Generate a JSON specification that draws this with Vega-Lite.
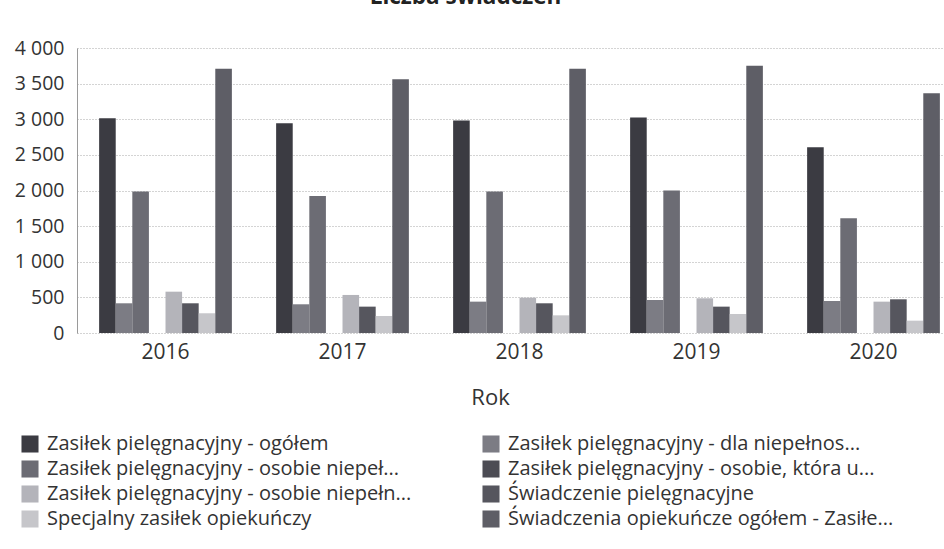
{
  "$schema": "https://vega.github.io/schema/vega-lite/v6.json",
  "autosize": "none",
  "padding": {"left": 77, "top": 48, "right": 0, "bottom": 216},
  "width": 885,
  "height": 285,
  "background": "white",
  "title": {
    "text": "Liczba świadczeń",
    "anchor": "middle",
    "frame": "group",
    "offset": 30,
    "dx": -54,
    "fontSize": 22.5,
    "fontWeight": "bold",
    "font": "Open Sans",
    "color": "#222222"
  },
  "data": {
    "values": [
      {"rok": "2016", "seria": "Zasiłek pielęgnacyjny - ogółem", "wartosc": 3015},
      {"rok": "2016", "seria": "Zasiłek pielęgnacyjny - dla niepełnos...", "wartosc": 417},
      {"rok": "2016", "seria": "Zasiłek pielęgnacyjny - osobie niepeł...", "wartosc": 1985},
      {"rok": "2016", "seria": "Zasiłek pielęgnacyjny - osobie, która u...", "wartosc": 0},
      {"rok": "2016", "seria": "Zasiłek pielęgnacyjny -  osobie niepełn...", "wartosc": 580},
      {"rok": "2016", "seria": "Świadczenie pielęgnacyjne", "wartosc": 417},
      {"rok": "2016", "seria": "Specjalny zasiłek opiekuńczy", "wartosc": 277},
      {"rok": "2016", "seria": "Świadczenia opiekuńcze ogółem - Zasiłe...", "wartosc": 3708},
      {"rok": "2017", "seria": "Zasiłek pielęgnacyjny - ogółem", "wartosc": 2945},
      {"rok": "2017", "seria": "Zasiłek pielęgnacyjny - dla niepełnos...", "wartosc": 403},
      {"rok": "2017", "seria": "Zasiłek pielęgnacyjny - osobie niepeł...", "wartosc": 1924},
      {"rok": "2017", "seria": "Zasiłek pielęgnacyjny - osobie, która u...", "wartosc": 0},
      {"rok": "2017", "seria": "Zasiłek pielęgnacyjny -  osobie niepełn...", "wartosc": 534},
      {"rok": "2017", "seria": "Świadczenie pielęgnacyjne", "wartosc": 370},
      {"rok": "2017", "seria": "Specjalny zasiłek opiekuńczy", "wartosc": 239},
      {"rok": "2017", "seria": "Świadczenia opiekuńcze ogółem - Zasiłe...", "wartosc": 3563},
      {"rok": "2018", "seria": "Zasiłek pielęgnacyjny - ogółem", "wartosc": 2982},
      {"rok": "2018", "seria": "Zasiłek pielęgnacyjny - dla niepełnos...", "wartosc": 440},
      {"rok": "2018", "seria": "Zasiłek pielęgnacyjny - osobie niepeł...", "wartosc": 1985},
      {"rok": "2018", "seria": "Zasiłek pielęgnacyjny - osobie, która u...", "wartosc": 0},
      {"rok": "2018", "seria": "Zasiłek pielęgnacyjny -  osobie niepełn...", "wartosc": 496},
      {"rok": "2018", "seria": "Świadczenie pielęgnacyjne", "wartosc": 417},
      {"rok": "2018", "seria": "Specjalny zasiłek opiekuńczy", "wartosc": 248},
      {"rok": "2018", "seria": "Świadczenia opiekuńcze ogółem - Zasiłe...", "wartosc": 3708},
      {"rok": "2019", "seria": "Zasiłek pielęgnacyjny - ogółem", "wartosc": 3024},
      {"rok": "2019", "seria": "Zasiłek pielęgnacyjny - dla niepełnos...", "wartosc": 463},
      {"rok": "2019", "seria": "Zasiłek pielęgnacyjny - osobie niepeł...", "wartosc": 1999},
      {"rok": "2019", "seria": "Zasiłek pielęgnacyjny - osobie, która u...", "wartosc": 0},
      {"rok": "2019", "seria": "Zasiłek pielęgnacyjny -  osobie niepełn...", "wartosc": 487},
      {"rok": "2019", "seria": "Świadczenie pielęgnacyjne", "wartosc": 370},
      {"rok": "2019", "seria": "Specjalny zasiłek opiekuńczy", "wartosc": 267},
      {"rok": "2019", "seria": "Świadczenia opiekuńcze ogółem - Zasiłe...", "wartosc": 3750},
      {"rok": "2020", "seria": "Zasiłek pielęgnacyjny - ogółem", "wartosc": 2608},
      {"rok": "2020", "seria": "Zasiłek pielęgnacyjny - dla niepełnos...", "wartosc": 449},
      {"rok": "2020", "seria": "Zasiłek pielęgnacyjny - osobie niepeł...", "wartosc": 1611},
      {"rok": "2020", "seria": "Zasiłek pielęgnacyjny - osobie, która u...", "wartosc": 0},
      {"rok": "2020", "seria": "Zasiłek pielęgnacyjny -  osobie niepełn...", "wartosc": 440},
      {"rok": "2020", "seria": "Świadczenie pielęgnacyjne", "wartosc": 473},
      {"rok": "2020", "seria": "Specjalny zasiłek opiekuńczy", "wartosc": 173},
      {"rok": "2020", "seria": "Świadczenia opiekuńcze ogółem - Zasiłe...", "wartosc": 3366}
    ]
  },
  "mark": {"type": "bar"},
  "encoding": {
    "x": {
      "field": "rok",
      "type": "nominal",
      "scale": {"paddingInner": 0.25, "paddingOuter": 0.125},
      "axis": {
        "title": "Rok",
        "labelAngle": 0,
        "labelFont": "Open Sans",
        "labelFontSize": 21,
        "labelColor": "#333333",
        "labelPadding": 8,
        "ticks": false,
        "domain": false,
        "titleFont": "Open Sans",
        "titleFontSize": 22,
        "titleFontWeight": "normal",
        "titleColor": "#333333",
        "titlePadding": 25,
        "titleX": 413,
        "titleAlign": "center"
      }
    },
    "xOffset": {
      "field": "seria",
      "type": "nominal",
      "scale": {
        "paddingInner": 0,
        "paddingOuter": 0,
        "domain": [
          "Zasiłek pielęgnacyjny - ogółem",
          "Zasiłek pielęgnacyjny - dla niepełnos...",
          "Zasiłek pielęgnacyjny - osobie niepeł...",
          "Zasiłek pielęgnacyjny - osobie, która u...",
          "Zasiłek pielęgnacyjny -  osobie niepełn...",
          "Świadczenie pielęgnacyjne",
          "Specjalny zasiłek opiekuńczy",
          "Świadczenia opiekuńcze ogółem - Zasiłe..."
        ]
      }
    },
    "y": {
      "field": "wartosc",
      "type": "quantitative",
      "scale": {"domain": [0, 4000], "nice": false},
      "axis": {
        "title": null,
        "values": [0, 500, 1000, 1500, 2000, 2500, 3000, 3500, 4000],
        "labelExpr": "replace(format(datum.value, ','), ',', ' ')",
        "labelFont": "Open Sans",
        "labelFontSize": 19.5,
        "labelColor": "#333333",
        "labelPadding": 13,
        "ticks": false,
        "domain": true,
        "domainColor": "#9a9a9a",
        "domainWidth": 1,
        "grid": true,
        "gridColor": "#a8a8a8",
        "gridDash": [1, 2],
        "gridWidth": 1
      }
    },
    "color": {
      "field": "seria",
      "type": "nominal",
      "scale": {
        "domain": [
          "Zasiłek pielęgnacyjny - ogółem",
          "Zasiłek pielęgnacyjny - dla niepełnos...",
          "Zasiłek pielęgnacyjny - osobie niepeł...",
          "Zasiłek pielęgnacyjny - osobie, która u...",
          "Zasiłek pielęgnacyjny -  osobie niepełn...",
          "Świadczenie pielęgnacyjne",
          "Specjalny zasiłek opiekuńczy",
          "Świadczenia opiekuńcze ogółem - Zasiłe..."
        ],
        "range": ["#3b3b42", "#7c7c84", "#6c6c74", "#4c4c54", "#b4b4ba", "#56565e", "#c6c6ca", "#5e5e66"]
      },
      "legend": {
        "title": null,
        "orient": "none",
        "direction": "horizontal",
        "legendX": -57,
        "legendY": 386,
        "columns": 2,
        "columnPadding": 64,
        "rowPadding": 5,
        "symbolType": "square",
        "symbolSize": 290,
        "symbolStrokeWidth": 0,
        "symbolOffset": 0,
        "labelOffset": 7,
        "labelFont": "Open Sans",
        "labelFontSize": 20,
        "labelColor": "#333333",
        "labelLimit": 500
      }
    }
  },
  "config": {
    "view": {"stroke": null}
  }
}
